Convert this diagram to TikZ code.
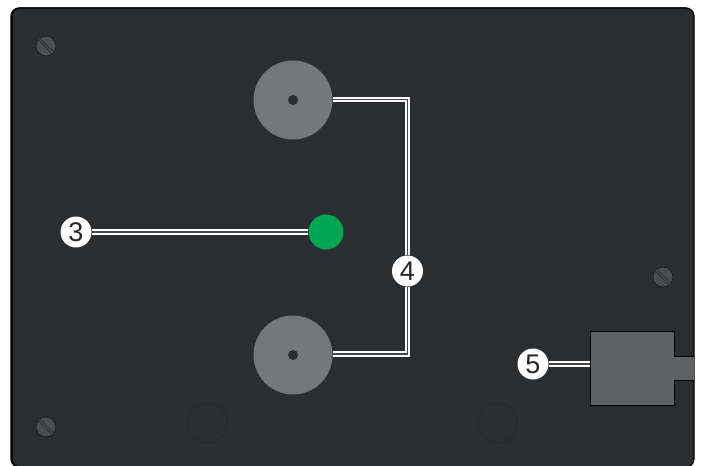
\documentclass[tikz,border=0pt]{standalone}
\usepackage{fontspec}
\setmainfont{Liberation Sans}
\usepackage{xcolor}
\usetikzlibrary{positioning,calc}
\definecolor{panelgray}{HTML}{2B2E31}
\definecolor{discgray}{HTML}{75787A}
\definecolor{pluggray}{HTML}{5F6364}
\definecolor{screwgray}{HTML}{4A4D51}
\definecolor{ledgreen}{HTML}{00A651}
\tikzset{
  panel/.style={draw=black,fill=panelgray,rounded corners=8pt,line width=1.2pt},
  disc/.style={circle,fill=discgray,inner sep=0pt,minimum size=79pt},
  hole/.style={circle,fill=panelgray,inner sep=0pt,minimum size=10pt},
  led/.style={circle,fill=ledgreen,inner sep=0pt,minimum size=35pt},
  badge/.style={circle,fill=white,text=black!85,inner sep=0pt,minimum size=31pt,font=\fontsize{27}{27}\selectfont},
  screw/.style={circle,draw=black!60!panelgray,fill=screwgray,inner sep=0pt,minimum size=20pt,line width=0.5pt},
  slot/.style={draw=panelgray,double=screwgray,double distance=1.2pt,line width=0.9pt,shorten >=0.5pt,shorten <=0.5pt},
  ghost/.style={circle,draw=black!18!panelgray,inner sep=0pt,minimum size=40pt,line width=0.6pt},
  plug/.style={draw=black,fill=pluggray,line width=0.9pt},
  wire/.style={draw=white,double=panelgray!70!gray,double distance=1.3pt,line width=2pt}
}
\begin{document}
\begin{tikzpicture}[x=1pt,y=-1pt]
    \useasboundingbox (0,0) rectangle (705,466);
    \fill[white] (0,0) rectangle (705,466);
    \draw[panel,fill=black] (11,8) rectangle (693,467);
    \draw[panel] (12,8) rectangle (694,467);
    % screws and ghosts
    \foreach \name/\px/\py in {a/46/46,b/46/427,c/663/277}{
      \node[screw] (screw\name) at (\px,\py) {};
      \draw[slot] (screw\name.north west) -- (screw\name.south east);
    }
    \node[ghost] (ghostl) at (207.5,423) {};
    \node[ghost] (ghostr) at (497.5,423) {};
    % parts
    \node[disc] (disctop) at (293,100) {};
    \node[hole] (holetop) at (disctop) {};
    \node[disc] (discbot) at (293,355) {};
    \node[hole] (holebot) at (discbot) {};
    \node[led] (led) at (326,232) {};
    \fill[pluggray] (674,356.5) rectangle (694,379.5);
    \draw[plug] (694,356) -- (674,356) -- (674,331) -- (590,331) -- (590,405) -- (674,405) -- (674,380) -- (694,380);
    \coordinate (plugin) at (590,364);
    % labels
    \node[badge] (three) at (76,232) {3};
    \node[badge] (four) at (407.5,271) {4};
    \node[badge] (five) at (533,364) {5};
    % wires
    \draw[wire] (three) -- (led);
    \draw[wire] (five) -- (plugin);
    \draw[wire] ($(disctop.east)+(0,-0.5)$) -| (four);
    \draw[wire] ($(discbot.east)+(0,-1)$) -| (four);
  \end{tikzpicture}
\end{document}
